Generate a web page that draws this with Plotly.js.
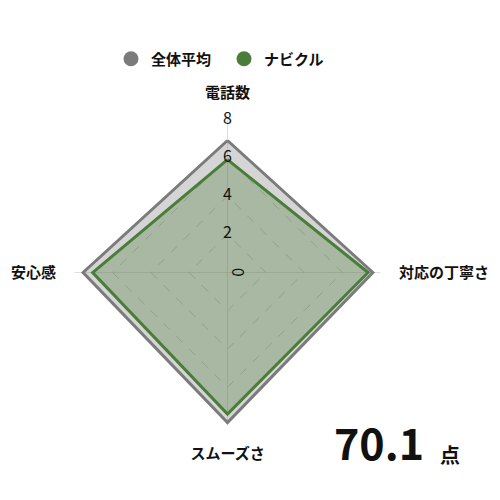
<!DOCTYPE html>
<html>
<head>
<meta charset="utf-8">
<script src="https://cdn.plot.ly/plotly-3.0.1.min.js"></script>
<style>
  html, body { margin: 0; padding: 0; background: #fff; }
  #radarPlot { width: 500px; height: 500px; }
</style>
</head>
<body>
<div id="radarPlot"></div>
<script>
// axes go clockwise from the top
var categories = ['電話数', '対応の丁寧さ', 'スムーズさ', '安心感'];

var averageName = '全体平均';
var averageValues = [6.9, 7.6, 7.85, 7.55];

var navikuruName = 'ナビクル';
var navikuruValues = [5.9, 7.35, 7.4, 7.05];

var tickValues = [0, 2, 4, 6, 8];
var tickLabels = ['0', '2', '4', '6', '8'];

var score = 70.1;

var font = '"Noto Sans CJK JP", "Noto Sans", sans-serif';
var grey = '#7b7b7b';
var green = '#4b7d3a';

// close the polygons
function closed(arr) { return arr.concat([arr[0]]); }

var average = {
    type: 'scatterpolar',
    r: closed(averageValues),
    theta: closed(categories),
    fill: 'toself',
    fillcolor: 'rgba(128,128,128,0.33)',
    line: {color: grey, width: 3},
    mode: 'lines',
    showlegend: false,
    hoverinfo: 'skip'
}

var navikuru = {
    type: 'scatterpolar',
    r: closed(navikuruValues),
    theta: closed(categories),
    fill: 'toself',
    fillcolor: 'rgba(75,125,58,0.32)',
    line: {color: green, width: 3},
    mode: 'lines',
    showlegend: false,
    hoverinfo: 'skip'
}

// legend entries only (round markers)
var averageKey = {
    type: 'scatterpolar', r: [null], theta: [categories[0]],
    mode: 'markers', name: averageName,
    marker: {color: grey, size: 15, symbol: 'circle'}
}
var navikuruKey = {
    type: 'scatterpolar', r: [null], theta: [categories[0]],
    mode: 'markers', name: navikuruName,
    marker: {color: green, size: 15, symbol: 'circle'}
}

// scale numbers 2..8 sit on the top spoke as text;
// the centre one gets hidden by plotly, so the radial axis labels it instead
var outerTicks = {
    type: 'scatterpolar',
    r: tickValues.slice(1),
    theta: tickValues.slice(1).map(function () { return categories[0]; }),
    text: tickLabels.slice(1),
    mode: 'text',
    textposition: 'middle center',
    textfont: {family: font, size: 16, color: '#111'},
    cliponaxis: false,
    showlegend: false,
    hoverinfo: 'skip'
}
var axisText = tickLabels.map(function (t, i) { return i === 0 ? t : ''; });

var layout = {
    width: 500,
    height: 500,
    margin: {l: 0, r: 0, t: 0, b: 0},
    paper_bgcolor: '#fff',
    font: {family: font, color: '#111'},
    showlegend: true,
    legend: {
        orientation: 'h',
        x: 0.222, xanchor: 'left',
        y: 0.882, yanchor: 'middle',
        entrywidth: 68, entrywidthmode: 'pixels',
        font: {family: font, size: 15, weight: 'bold', color: '#111'},
        itemclick: false
    },
    polar: {
        domain: {x: [0.149, 0.761], y: [0.149, 0.761]},
        bgcolor: 'rgba(0,0,0,0)',
        gridshape: 'linear',
        radialaxis: {
            range: [-0.01, 8],
            tickvals: tickValues,
            ticktext: axisText,
            showticklabels: true,
            tickangle: 0,
            tickfont: {family: font, size: 16, color: '#111'},
            ticks: '',
            showline: false,
            angle: 90,
            gridcolor: '#c8c8c8',
            griddash: 'dash',
            gridwidth: 1
        },
        angularaxis: {
            direction: 'clockwise',
            rotation: 90,
            showline: false,
            ticks: 'outside',
            ticklen: 15,
            tickcolor: 'rgba(0,0,0,0)',
            gridcolor: 'rgba(0,0,0,0.13)',
            gridwidth: 1,
            tickfont: {family: font, size: 15, weight: 'bold', color: '#111'}
        }
    },
    annotations: [
        {
            xref: 'paper', yref: 'paper',
            x: 0.852, y: 0.052, xanchor: 'right', yanchor: 'bottom',
            text: '<b>' + score.toFixed(1) + '</b>',
            showarrow: false,
            font: {family: font, size: 43, color: '#111'}
        },
        {
            xref: 'paper', yref: 'paper',
            x: 0.876, y: 0.058, xanchor: 'left', yanchor: 'bottom',
            text: '<b>点</b>',
            showarrow: false,
            font: {family: font, size: 20, color: '#111'}
        }
    ]
}

Plotly.newPlot('radarPlot', [average, navikuru, averageKey, navikuruKey, outerTicks], layout, {displayModeBar: false, staticPlot: true});
</script>
</body>
</html>
